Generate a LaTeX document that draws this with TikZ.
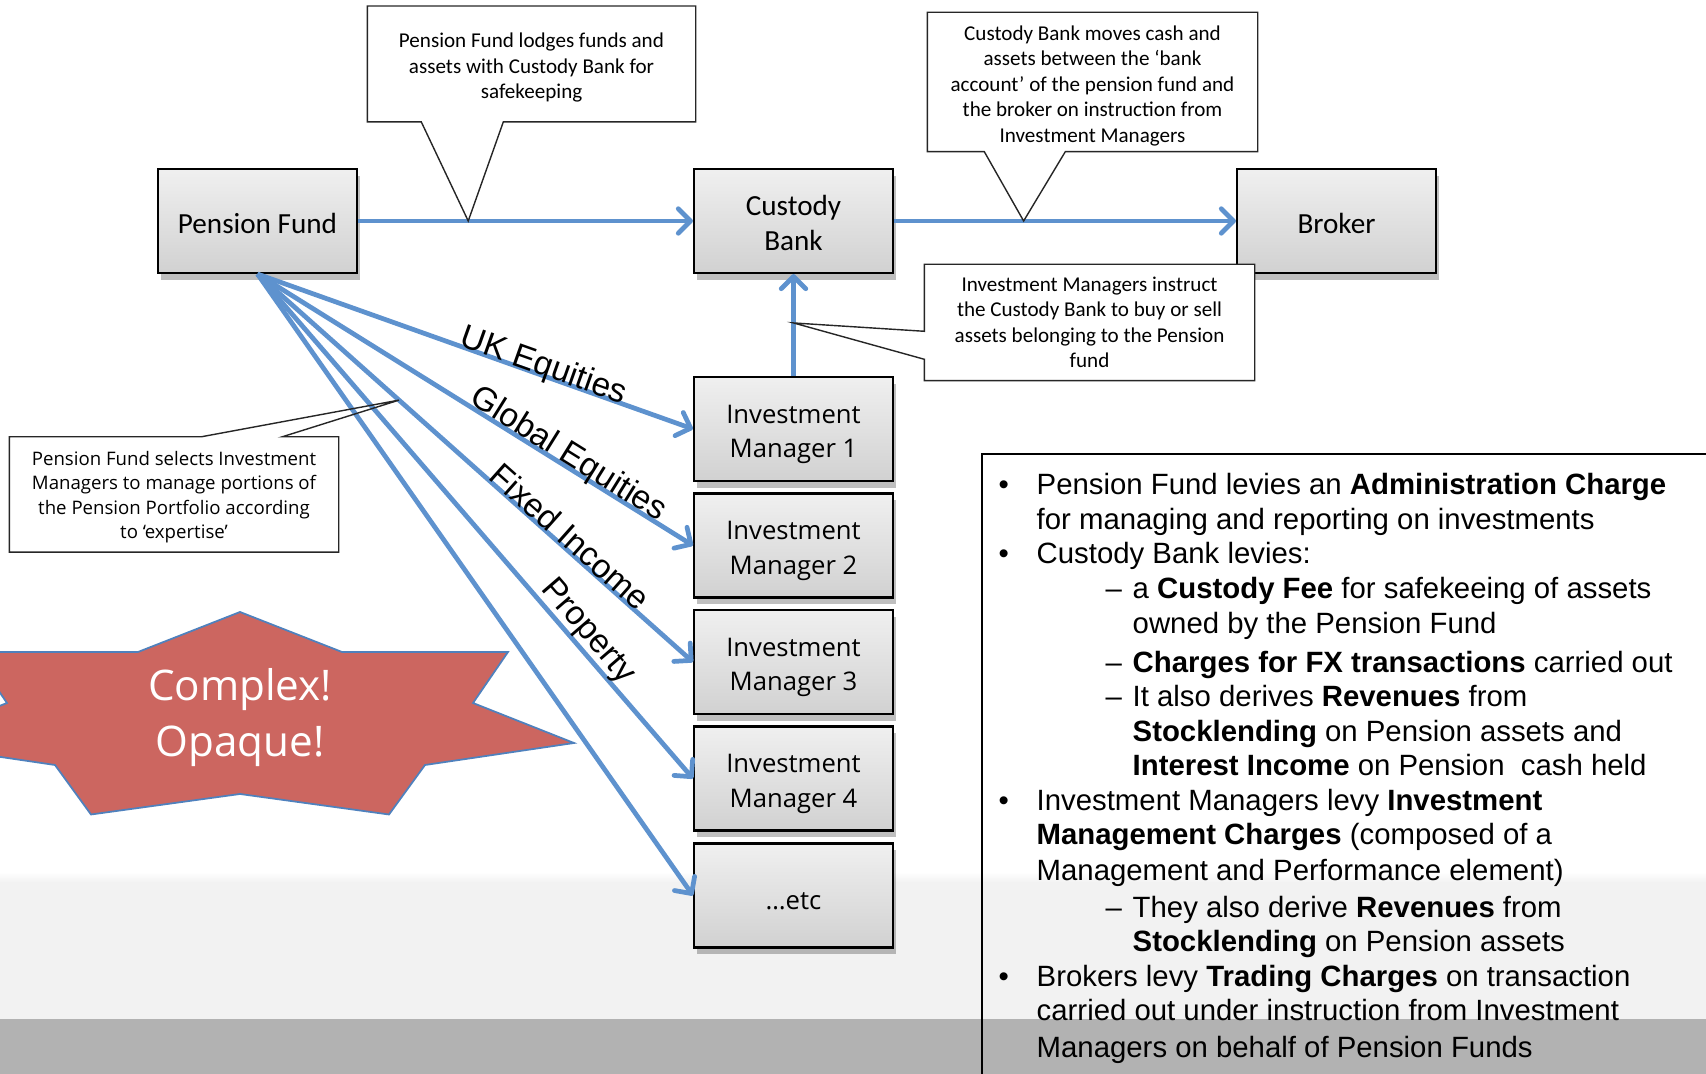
\documentclass[tikz,border=0pt]{standalone}
\usepackage{fontspec}
\setmainfont{Carlito}
\newfontfamily\opensans{Open Sans}
\newfontfamily\arialfont{Liberation Sans}
\usetikzlibrary{arrows.meta,calc,shadows}
\definecolor{flowblue}{RGB}{94,146,206}
\definecolor{starred}{RGB}{204,102,96}
\definecolor{starline}{RGB}{79,129,189}
% indents for the fee list
\newcommand{\feebul}{\makebox[0.38cm][l]{\textbullet}}
\newcommand{\feeind}{\hspace*{0.38cm}}
\newcommand{\feesub}{\hspace*{1.07cm}\makebox[0.27cm][l]{\textendash}}
\newcommand{\feesubind}{\hspace*{1.34cm}}
\begin{document}
\begin{tikzpicture}[
  box/.style={draw=black, line width=0.6pt, top color=black!6, bottom color=black!18,
    drop shadow={shadow xshift=0.3mm, shadow yshift=-0.7mm, opacity=0.25, fill=black},
    minimum width=1.99cm, minimum height=1.04cm, align=center, inner sep=0pt,
    font=\fontsize{8.3}{9.9}\selectfont, execute at begin node={\rule{0pt}{7.1pt}}},
  mgr/.style={box, font=\opensans\fontsize{7.3}{9.9}\selectfont,
    execute at begin node={\rule{0pt}{18.2pt}}},
  note/.style={fill=white, align=center, inner sep=0pt, font=\fontsize{6}{7.25}\selectfont},
  noteline/.style={draw=black!85, line width=0.4pt},
  flow/.style={draw=flowblue, line width=1.35pt, -{Straight Barb[length=3.5pt,width=7pt,round]}},
  asset/.style={font=\arialfont\fontsize{9.5}{11}\selectfont, sloped, anchor=base, inner sep=0pt}
]
\clip (0,0) rectangle (17.06,10.74);
% slide background
\fill[black!5] (0,0.55) rectangle (17.06,1.92);
\shade[top color=white, bottom color=black!5] (0,1.92) rectangle (17.06,2.02);
\fill[black!30] (0,0) rectangle (17.06,0.55);

% parties
\node[box] (pf) at (2.575,8.53) {Pension Fund};
\node[box, execute at begin node={\rule{0pt}{17pt}}] (cb) at (7.935,8.53) {Custody\\Bank};
\node[box] (broker) at (13.365,8.53) {Broker};
\node[mgr] (im1) at (7.935,6.45) {Investment\\Manager 1};
\node[mgr] (im2) at (7.935,5.285) {Investment\\Manager 2};
\node[mgr] (im3) at (7.935,4.12) {Investment\\Manager 3};
\node[mgr] (im4) at (7.935,2.955) {Investment\\Manager 4};
\node[box, font=\opensans\fontsize{7.3}{9.9}\selectfont,
  execute at begin node={\rule{0pt}{8pt}}] (etc) at (7.935,1.785) {…etc};

% flows
\draw[flow] (pf.east) -- (cb.west);
\draw[flow] (cb.east) -- (broker.west);
\draw[flow] (im1.north) -- (cb.south);
\draw[flow] (pf.south) -- node[asset, pos=0.65] {UK Equities} (im1.west);
\draw[flow] (pf.south) -- node[asset, pos=0.70, yshift=0.6pt] {Global Equities} (im2.west);
\draw[flow] (pf.south) -- node[asset, pos=0.70] {Fixed Income} (im3.west);
\draw[flow] (pf.south) -- node[asset, pos=0.73, yshift=2.3pt] {Property} (im4.west);
\draw[flow] (pf.south) -- (etc.west);

% callouts
\coordinate (lodgetip) at ($(pf.east)!0.329!(cb.west)$);
\coordinate (movestip) at ($(cb.east)!0.379!(broker.west)$);
\coordinate (instructtip) at ($(im1.north)!0.52!(cb.south)$);
\coordinate (selectstip) at ($(pf.south)!0.325!(im3.west)$);

\node[note, minimum width=3.27cm, minimum height=1.145cm,
  execute at begin node={\rule{0pt}{20.9pt}}] (lodge) at (5.315,10.10)
  {Pension Fund lodges funds and\\assets with Custody Bank for\\safekeeping};
\draw[noteline] (lodge.south west) -- ++(0.54,0) -- (lodgetip)
  -- ($(lodge.south west)+(1.36,0)$) -- (lodge.south east) -- (lodge.north east)
  -- (lodge.north west) -- cycle;

\node[note, minimum width=3.29cm, minimum height=1.38cm,
  execute at begin node={\rule{0pt}{35.4pt}}] (moves) at (10.925,9.92)
  {Custody Bank moves cash and\\assets between the ‘bank\\account’ of the pension fund and\\the broker on instruction from\\Investment Managers};
\draw[noteline] (moves.south west) -- ++(0.57,0) -- (movestip)
  -- ($(moves.south west)+(1.38,0)$) -- (moves.south east) -- (moves.north east)
  -- (moves.north west) -- cycle;

\node[note, minimum width=3.29cm, minimum height=1.15cm] (instruct) at (10.895,7.515)
  {Investment Managers instruct\\the Custody Bank to buy or sell\\assets belonging to the Pension\\fund};
\draw[noteline] (instruct.north west) -- (instruct.north east) -- (instruct.south east)
  -- (instruct.south west) -- ($(instruct.north west)+(0,-0.95)$) -- (instructtip)
  -- ($(instruct.north west)+(0,-0.67)$) -- cycle;

\node[note, minimum width=3.28cm, minimum height=1.14cm, font=\opensans\fontsize{5.3}{7}\selectfont,
  execute at begin node={\rule{0pt}{26.5pt}}]
  (selects) at (1.74,5.795)
  {Pension Fund selects Investment\\Managers to manage portions of\\the Pension Portfolio according\\to ‘expertise’};
\draw[noteline] (selects.north west) -- ++(1.92,0) -- (selectstip)
  -- ($(selects.north west)+(2.73,0)$) -- (selects.north east) -- (selects.south east)
  -- (selects.south west) -- cycle;

% warning star
\draw[fill=starred, draw=starline, line width=0.5pt]
  (2.40,4.62) -- (3.42,4.22) -- (5.08,4.22) -- (4.73,3.71) -- (5.74,3.31)
  -- (4.25,3.09) -- (3.89,2.595) -- (2.40,2.80) -- (0.91,2.595) -- (0.55,3.09)
  -- (-0.94,3.31) -- (0.07,3.71) -- (-0.28,4.22) -- (1.38,4.22) -- cycle;
\node[text=white, align=center, font=\opensans\fontsize{12}{16}\selectfont,
  execute at begin node={\rule{0pt}{27.6pt}}] (complex)
  at (2.40,3.605) {Complex!\\Opaque!};

% fees
\draw[line width=0.5pt] (9.817,-0.1) -- (9.817,6.20) -- (17.2,6.20);
\node[anchor=north west, align=left, inner sep=0pt, font=\arialfont\fontsize{8.35}{9.82}\selectfont]
  (fees) at (9.98,6.01) {%
\feebul Pension Fund levies an \textbf{Administration Charge}\\
\feeind for managing and reporting on investments\\
\feebul Custody Bank levies:\\
\feesub a \textbf{Custody Fee} for safekeeing of assets\\
\feesubind owned by the Pension Fund\\[1.3pt]
\feesub \textbf{Charges for FX transactions} carried out\\
\feesub It also derives \textbf{Revenues} from\\
\feesubind \textbf{Stocklending} on Pension assets and\\
\feesubind \textbf{Interest Income} on Pension\ \ cash held\\
\feebul Investment Managers levy \textbf{Investment}\\
\feeind \textbf{Management Charges} (composed of a\\[0.5pt]
\feeind Management and Performance element)\\[0.5pt]
\feesub They also derive \textbf{Revenues} from\\
\feesubind \textbf{Stocklending} on Pension assets\\
\feebul Brokers levy \textbf{Trading Charges} on transaction\\
\feeind carried out under instruction from Investment\\[0.5pt]
\feeind Managers on behalf of Pension Funds};
\end{tikzpicture}
\end{document}
